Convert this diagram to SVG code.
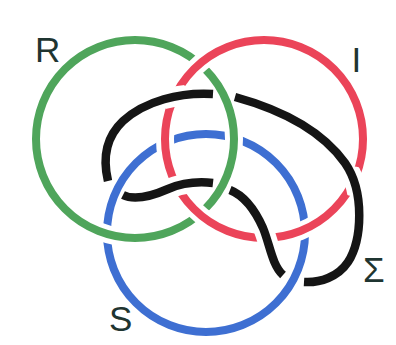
<svg xmlns="http://www.w3.org/2000/svg" width="396" height="345" viewBox="0 0 396 345">
  <style>
    .halo { fill: none; stroke: #ffffff; stroke-width: 18; }
    .ring { fill: none; stroke-width: 8; }
    .green { stroke: #4fa55b; }
    .red { stroke: #eb4459; }
    .blue { stroke: #3e6fd2; }
    .black { fill: none; stroke: #151515; stroke-width: 8.5; stroke-linecap: butt; }
    .bhalo { fill: none; stroke: #ffffff; stroke-width: 20; }
    .label { font-family: "Liberation Sans", Arial, sans-serif; font-size: 35px; fill: #1f3531; }
  </style>
  <defs>
    <path id="seg1" d="M108,181 C103,160 105,138 123,121 C145,101 180,92 213,94"/>
    <path id="seg2" d="M235,97 C275,108 320,128 345,163 C365,192 362,240 348,262 C338,277 320,283 304,282"/>
    <path id="seg3" d="M230,190 C245,196 255,210 263,228 C270,245 272,265 283,275"/>
    <path id="seg4" d="M213,183 C195,181 182,183 168,189 C152,196 135,201 123,195"/>
    <clipPath id="cA"><circle cx="174.5" cy="96.5" r="15"/></clipPath>
    <clipPath id="cB"><circle cx="353.7" cy="181.5" r="15"/></clipPath>
    <clipPath id="cC"><circle cx="265.5" cy="238" r="15"/></clipPath>
    <clipPath id="cD"><circle cx="176.5" cy="186" r="15"/></clipPath>
  </defs>
  <rect width="396" height="345" fill="#ffffff"/>

  <g id="ring-S">
    <circle class="halo" cx="206" cy="233" r="99"/>
    <circle class="ring blue" cx="206" cy="233" r="99"/>
    <text class="label" x="109" y="331">S</text>
  </g>

  <g id="ring-R">
    <circle class="halo" cx="135" cy="139" r="99"/>
    <circle class="ring green" cx="135" cy="139" r="99"/>
    <text class="label" x="35" y="62">R</text>
  </g>

  <g id="ring-I">
    <circle class="halo" cx="264" cy="139" r="99"/>
    <circle class="ring red" cx="264" cy="139" r="99"/>
    <text class="label" x="351.5" y="72">I</text>
  </g>

  <g id="connectors">
    <use href="#seg1" class="bhalo" clip-path="url(#cA)"/>
    <use href="#seg2" class="bhalo" clip-path="url(#cB)"/>
    <use href="#seg3" class="bhalo" clip-path="url(#cC)"/>
    <use href="#seg4" class="bhalo" clip-path="url(#cD)"/>
  </g>

  <g id="loop-Sigma">
    <use href="#seg1" class="black"/>
    <use href="#seg2" class="black"/>
    <use href="#seg3" class="black"/>
    <use href="#seg4" class="black"/>
    <text class="label" x="363" y="282">Σ</text>
  </g>
</svg>
